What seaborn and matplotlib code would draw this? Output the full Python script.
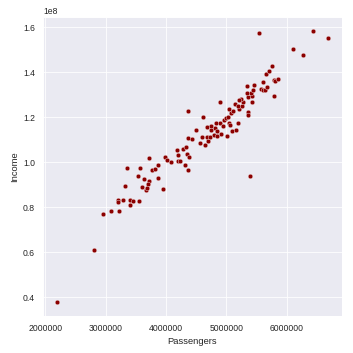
import matplotlib
matplotlib.use("Agg")
import matplotlib.pyplot as plt
import numpy as np
import pandas as pd
import seaborn as sns

# passengers (millions) and income (1e8)
passengers_m = [
    2.186, 2.797, 2.962, 3.094, 3.226, 3.196, 3.210, 3.292, 3.408, 3.457,
    3.556, 3.408, 3.325, 3.540, 3.639, 3.716, 3.700, 3.601, 3.662, 3.683,
    3.952, 3.870, 3.358, 3.573, 3.766, 3.820, 3.870, 3.721, 3.985, 4.008,
    4.087, 4.178, 4.282, 4.203, 4.190, 4.233, 4.343, 4.381, 4.315, 4.365,
    4.335, 4.365, 4.434, 4.365, 4.497, 4.566, 4.640, 4.695, 4.596, 4.670,
    4.723, 4.612, 4.685, 4.751, 4.817, 4.751, 4.843, 4.909, 4.794, 4.850,
    5.008, 5.091, 5.157, 4.827, 4.899, 4.942, 5.041, 5.064, 5.190, 4.960,
    4.998, 5.031, 5.074, 5.041, 5.107, 5.206, 5.140, 5.190, 5.251, 5.272,
    5.234, 5.206, 4.893, 5.355, 5.355, 5.421, 5.355, 5.416, 5.399, 5.345,
    5.437, 5.338, 5.454, 5.388, 5.536, 5.602, 5.569, 5.609, 5.635, 5.668,
    5.652, 5.701, 5.751, 5.784, 5.812, 5.850, 5.784, 6.097, 6.262, 6.427,
    6.691,
]
income_e8 = [
    0.378, 0.609, 0.769, 0.782, 0.782, 0.831, 0.822, 0.831, 0.835, 0.830,
    0.828, 0.809, 0.893, 0.938, 0.924, 0.918, 0.905, 0.889, 0.876, 0.884,
    0.880, 0.929, 0.973, 0.973, 0.964, 0.969, 0.988, 1.018, 1.024, 1.009,
    1.000, 1.053, 1.059, 1.032, 1.008, 1.004, 1.037, 1.024, 0.988, 0.964,
    1.068, 1.107, 1.102, 1.227, 1.142, 1.084, 1.076, 1.093, 1.114, 1.112,
    1.111, 1.200, 1.156, 1.160, 1.154, 1.142, 1.140, 1.126, 1.120, 1.117,
    1.117, 1.139, 1.144, 1.176, 1.173, 1.163, 1.176, 1.164, 1.173, 1.187,
    1.196, 1.203, 1.218, 1.236, 1.228, 1.236, 1.258, 1.252, 1.249, 1.267,
    1.280, 1.277, 1.267, 1.224, 1.212, 1.267, 1.289, 1.293, 1.309, 1.307,
    1.321, 1.338, 1.342, 0.938, 1.573, 1.356, 1.324, 1.321, 1.320, 1.333,
    1.391, 1.406, 1.427, 1.364, 1.360, 1.369, 1.293, 1.502, 1.476, 1.586,
    1.551,
]

df = pd.DataFrame({
    "Passengers": np.array(passengers_m) * 1e6,
    "Income": np.array(income_e8) * 1e8,
})

sns.set_theme(style="darkgrid", context="paper")
plt.rcParams["font.family"] = ["Liberation Sans", "DejaVu Sans"]

fig, ax = plt.subplots(figsize=(5, 5), dpi=70.6)
sns.scatterplot(data=df, x="Passengers", y="Income", color="darkred", ax=ax)
ax.ticklabel_format(axis="x", style="plain", useOffset=False)
fig.subplots_adjust(left=0.122, right=0.969, top=0.952, bottom=0.105)
fig.savefig("out.png", dpi=70.6)
